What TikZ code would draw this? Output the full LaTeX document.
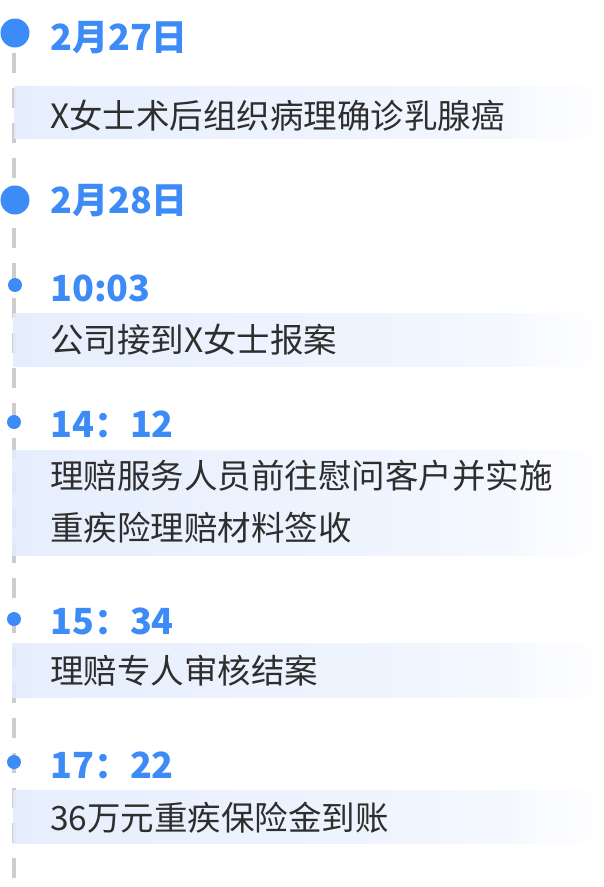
\documentclass[tikz,border=0pt]{standalone}
\usepackage{fontspec}
\newfontfamily\cjk{Noto Sans CJK SC}
\definecolor{tblue}{HTML}{3D8BF7}
\definecolor{tgray}{HTML}{CDCDCD}
\definecolor{ttext}{HTML}{2E2E2E}
\definecolor{boxl}{HTML}{E3ECFD}
\definecolor{boxm}{HTML}{EBF2FE}
\pgfdeclarehorizontalshading{boxfade}{100bp}{color(0bp)=(boxl); color(25bp)=(boxl); color(52bp)=(boxm); color(66bp)=(boxm!65!white); color(75bp)=(white); color(100bp)=(white)}
\tikzset{
  head/.style={anchor=base west, inner sep=0pt, text=tblue, font=\cjk\bfseries\fontsize{36}{40}\selectfont},
  body/.style={anchor=base west, inner sep=0pt, text=ttext, font=\cjk\fontsize{33.5}{40}\selectfont},
  hbox/.style={shading=boxfade, fill opacity=0.88},
  bigdot/.style={fill=tblue},
  timeline/.style={draw=tgray, line width=4.5pt, dash pattern=on 20pt off 15pt}
}
\begin{document}
\begin{tikzpicture}[x=1pt,y=-1pt]
\useasboundingbox (0,0) rectangle (603,887);
\coordinate (ltop) at (14,53);
\coordinate (lbot) at (14,887);
\draw[timeline] (ltop) -- (lbot);
% boxes
\path[hbox] (14,86) rectangle (603,138);
\path[hbox] (13,313) rectangle (603,366);
\path[hbox] (12,450) rectangle (603,555);
\path[hbox] (12,643) rectangle (603,697);
\path[hbox] (13,790) rectangle (603,843);
% dots
\fill[bigdot] (15,33) circle[radius=14.5pt];
\fill[bigdot] (15,200) circle[radius=14.5pt];
\fill[bigdot] (15,285) circle[radius=7pt];
\fill[bigdot] (14,422) circle[radius=7pt];
\fill[bigdot] (14,619) circle[radius=7pt];
\fill[bigdot] (14,762) circle[radius=7pt];
% headings
\node[head] (h1) at (50,50) {2月27日};
\node[head] (h2) at (50,213) {2月28日};
\node[head] (h3) at (50,301) {10:03};
\node[head] (h4) at (50,437) {14：12};
\node[head] (h5) at (50,634) {15：34};
\node[head] (h6) at (50,778) {17：22};
% texts
\node[body] (t1) at (50,128) {X女士术后组织病理确诊乳腺癌};
\node[body] (t2) at (50,352) {公司接到X女士报案};
\node[body] (t3a) at (50,488) {理赔服务人员前往慰问客户并实施};
\node[body] (t3b) at (50,540) {重疾险理赔材料签收};
\node[body] (t4) at (50,683) {理赔专人审核结案};
\node[body] (t5) at (50,830) {36万元重疾保险金到账};
\end{tikzpicture}
\end{document}
